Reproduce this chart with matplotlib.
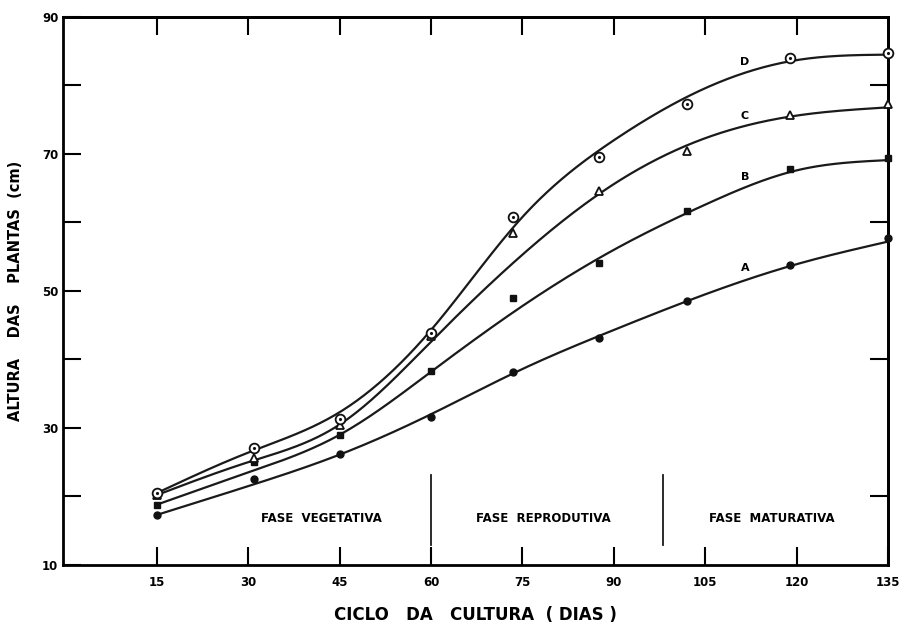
import matplotlib.pyplot as plt
import numpy as np

# sampling days and measured heights (cm)
days = [15, 31, 45, 60, 73.5, 87.5, 102, 119, 135]
pts_A = [17.3, 22.6, 26.2, 31.6, 38.2, 43.1, 48.5, 53.8, 57.7]
pts_B = [18.8, 25.0, 29.0, 38.3, 49.0, 54.1, 61.7, 67.8, 69.4]
pts_C = [20.2, 25.6, 30.4, 43.4, 58.5, 64.6, 70.4, 75.7, 77.3]
pts_D = [20.5, 27.1, 31.3, 43.8, 60.8, 69.6, 77.3, 84.0, 84.7]

# fitted curves
curve_days = [15, 30, 45, 60, 75, 90, 105, 120, 135]
curve_A = [17.3, 21.5, 26.1, 32.0, 38.6, 44.3, 49.5, 53.9, 57.2]
curve_B = [18.8, 23.5, 29.0, 38.2, 47.8, 56.0, 62.6, 67.6, 69.1]
curve_C = [20.2, 25.0, 30.5, 42.6, 55.3, 65.6, 72.3, 75.6, 76.8]
curve_D = [20.5, 26.4, 32.3, 44.3, 60.8, 72.0, 79.6, 83.7, 84.5]

phases = ['FASE  VEGETATIVA', 'FASE  REPRODUTIVA', 'FASE  MATURATIVA']
phase_x = [42, 78.5, 116]
phase_div = [60, 98]

x_ticks = [15, 30, 45, 60, 75, 90, 105, 120, 135]


def spline(x, y, xn):
    # natural cubic spline, just for drawing a smooth line
    x = np.asarray(x, float); y = np.asarray(y, float)
    n = len(x); h = np.diff(x)
    A = np.zeros((n, n)); r = np.zeros(n)
    A[0, 0] = A[-1, -1] = 1
    for i in range(1, n - 1):
        A[i, i-1] = h[i-1]; A[i, i] = 2*(h[i-1] + h[i]); A[i, i+1] = h[i]
        r[i] = 6*((y[i+1] - y[i])/h[i] - (y[i] - y[i-1])/h[i-1])
    M = np.linalg.solve(A, r)
    i = np.clip(np.searchsorted(x, xn) - 1, 0, n - 2)
    a = x[i+1] - xn; b = xn - x[i]
    return (M[i]*a**3 + M[i+1]*b**3)/(6*h[i]) + (y[i]/h[i] - M[i]*h[i]/6)*a + (y[i+1]/h[i] - M[i+1]*h[i]/6)*b


fig = plt.figure(figsize=(9.07, 6.29), dpi=100)
ax = fig.add_axes([0.069, 0.102, 0.91, 0.871])

xs = np.linspace(15, 135, 400)
curves = {'A': curve_A, 'B': curve_B, 'C': curve_C, 'D': curve_D}
for name in ['A', 'B', 'C', 'D']:
    ax.plot(xs, spline(curve_days, curves[name], xs), color='#1a1a1a', lw=1.6, zorder=2)

ax.plot(days, pts_A, 'o', color='#111111', ms=5, zorder=3, clip_on=False)
ax.plot(days, pts_B, 's', color='#111111', ms=5, zorder=3, clip_on=False)
ax.plot(days, pts_C, '^', mfc='white', mec='#111111', mew=1.3, ms=6, zorder=3, clip_on=False)
ax.plot(days, pts_D, 'o', mfc='white', mec='#111111', mew=1.3, ms=7, zorder=3, clip_on=False)
ax.plot(days, pts_D, '.', color='#111111', ms=2.5, zorder=4, clip_on=False)

# curve letters
for lbl, yy in zip(['A', 'B', 'C', 'D'], [53.4, 66.6, 75.6, 83.4]):
    ax.text(111.5, yy, lbl, fontsize=8, fontweight='bold', ha='center', va='center')

for xd in phase_div:
    ax.plot([xd, xd], [12.9, 23.1], color='#1a1a1a', lw=1.3)
for t, xp in zip(phases, phase_x):
    ax.text(xp, 16.7, t, fontsize=8.5, fontweight='bold', ha='center', va='center')

ax.set_xlim(-0.5, 135)
ax.set_ylim(10, 90)
ax.set_xticks(x_ticks)
ax.set_xticklabels([str(v) for v in x_ticks], fontsize=8.5, fontweight='bold')
ax.set_yticks([10, 30, 50, 70, 90])
ax.set_yticks([20, 40, 60, 80], minor=True)
ax.set_yticklabels(['10', '30', '50', '70', '90'], fontsize=8.5, fontweight='bold')
ax.tick_params(axis='both', which='both', direction='in', length=13, width=1.5)
ax.tick_params(axis='x', pad=8)
ax.tick_params(axis='y', pad=3)

sec_top = ax.secondary_xaxis('top')
sec_top.set_xticks(x_ticks[:-1])
sec_top.tick_params(direction='in', length=13, width=1.5, labeltop=False)
sec_right = ax.secondary_yaxis('right')
sec_right.set_yticks([20, 40, 60, 80])
sec_right.tick_params(direction='in', length=13, width=1.5, labelright=False)
for s in sec_top.spines.values():
    s.set_linewidth(2)
for s in sec_right.spines.values():
    s.set_linewidth(2)
for s in ax.spines.values():
    s.set_linewidth(2)

ax.set_xlabel('CICLO   DA   CULTURA  ( DIAS )', fontsize=12, fontweight='bold', labelpad=12)
ax.set_ylabel('ALTURA    DAS    PLANTAS  (cm)', fontsize=10.5, fontweight='bold', labelpad=14)

fig.savefig('out.png', dpi=100)
